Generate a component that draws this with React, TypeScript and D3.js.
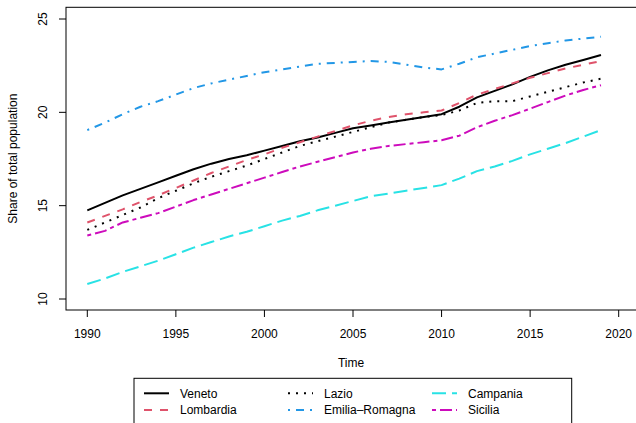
import React from "react";
import * as d3 from "d3";

// Annual share of total population, 1990–2019
const years: number[] = d3.range(1990, 2020);

const veneto = [14.75, 15.15, 15.55, 15.9, 16.25, 16.6, 16.95, 17.25, 17.5, 17.7, 17.95, 18.2, 18.45, 18.65, 18.9, 19.15, 19.3, 19.45, 19.6, 19.75, 19.9, 20.3, 20.8, 21.15, 21.5, 21.9, 22.25, 22.55, 22.8, 23.07];
const lombardia = [14.1, 14.45, 14.8, 15.2, 15.55, 15.95, 16.35, 16.75, 17.1, 17.45, 17.75, 18.1, 18.4, 18.7, 19.0, 19.3, 19.55, 19.75, 19.9, 20.0, 20.1, 20.5, 20.95, 21.25, 21.55, 21.85, 22.1, 22.35, 22.55, 22.75];
const lazio = [13.7, 14.1, 14.5, 14.9, 15.4, 15.8, 16.2, 16.55, 16.85, 17.15, 17.5, 17.85, 18.2, 18.45, 18.7, 18.95, 19.2, 19.45, 19.6, 19.75, 19.85, 20.1, 20.5, 20.6, 20.6, 20.85, 21.1, 21.35, 21.6, 21.8];
const emiliaRomagna = [19.05, 19.45, 19.9, 20.3, 20.6, 20.95, 21.3, 21.55, 21.75, 21.95, 22.15, 22.3, 22.45, 22.6, 22.65, 22.7, 22.75, 22.7, 22.55, 22.4, 22.3, 22.6, 22.95, 23.15, 23.35, 23.55, 23.7, 23.85, 23.95, 24.05];
const campania = [10.8, 11.1, 11.45, 11.75, 12.05, 12.4, 12.75, 13.05, 13.35, 13.6, 13.9, 14.2, 14.45, 14.75, 15.0, 15.25, 15.5, 15.65, 15.8, 15.95, 16.1, 16.45, 16.85, 17.1, 17.4, 17.75, 18.05, 18.35, 18.7, 19.05];
const sicilia = [13.4, 13.65, 14.1, 14.35, 14.6, 14.95, 15.3, 15.6, 15.9, 16.2, 16.5, 16.8, 17.1, 17.35, 17.6, 17.85, 18.05, 18.2, 18.3, 18.4, 18.5, 18.75, 19.2, 19.55, 19.85, 20.2, 20.55, 20.9, 21.2, 21.45];

const regionNames = ["Veneto", "Lombardia", "Lazio", "Emilia\u2013Romagna", "Campania", "Sicilia"];
const regionValues = [veneto, lombardia, lazio, emiliaRomagna, campania, sicilia];
const regionColors = ["#000000", "#DF536B", "#000000", "#2297E6", "#28E2E5", "#CD0BBC"];
// R-style line types scaled for lwd = 2
const regionDashes = ["none", "8,8", "2,6", "2,6,8,6", "14,6", "4,4,12,4"];

const xTicks = [1990, 1995, 2000, 2005, 2010, 2015, 2020];
const yTicks = [10, 15, 20, 25];

const W = 636;
const H = 423;
const FONT = "'Liberation Sans', Arial, Helvetica, sans-serif";

export default function App() {
  const x = d3.scaleLinear().domain([1990, 2020]).range([87.3, 618.7]);
  const y = d3.scaleLinear().domain([10, 25]).range([299, 19]);

  const box = { left: 66, top: 7.3, right: 640, bottom: 310 };

  const line = d3
    .line<number>()
    .x((_, i) => x(years[i]))
    .y((d) => y(d));

  // legend layout: three columns, two rows (filled column-wise)
  const legendCols = [144, 288, 432];
  const legendRows = [393.3, 410];
  const segLen = 25;

  return (
    <svg
      width={W}
      height={H}
      style={{ position: "absolute", left: 0, top: 0, background: "#fff" }}
      fontFamily={FONT}
    >
      <rect x={0} y={0} width={W} height={H} fill="#fff" />
      <defs>
        <clipPath id="plot-clip">
          <rect x={box.left} y={box.top} width={box.right - box.left} height={box.bottom - box.top} />
        </clipPath>
      </defs>

      {/* series */}
      <g clipPath="url(#plot-clip)">
        {regionValues.map((vals, k) => (
          <path
            key={regionNames[k]}
            d={line(vals) || ""}
            fill="none"
            stroke={regionColors[k]}
            strokeWidth={2}
            strokeDasharray={regionDashes[k]}
            strokeLinejoin="round"
            strokeLinecap="butt"
          />
        ))}
      </g>

      {/* plot frame */}
      <rect
        x={box.left}
        y={box.top}
        width={box.right - box.left}
        height={box.bottom - box.top}
        fill="none"
        stroke="#000"
        strokeWidth={1}
      />

      {/* x axis */}
      {xTicks.map((t) => (
        <g key={t}>
          <line x1={x(t)} x2={x(t)} y1={box.bottom} y2={box.bottom + 7} stroke="#000" strokeWidth={1} />
          <text x={x(t)} y={338} fontSize={12} textAnchor="middle" fill="#000">
            {t}
          </text>
        </g>
      ))}
      <text x={(x(1990) + x(2020)) / 2 - 2} y={367} fontSize={12} textAnchor="middle" fill="#000">
        Time
      </text>

      {/* y axis */}
      {yTicks.map((t) => (
        <g key={t}>
          <line x1={box.left - 7} x2={box.left} y1={y(t)} y2={y(t)} stroke="#000" strokeWidth={1} />
          <text
            transform={`translate(47,${y(t)}) rotate(-90)`}
            fontSize={12}
            textAnchor="middle"
            fill="#000"
          >
            {t}
          </text>
        </g>
      ))}
      <text
        transform={`translate(17,${(box.top + box.bottom) / 2}) rotate(-90)`}
        fontSize={12}
        textAnchor="middle"
        fill="#000"
      >
        Share of total population
      </text>

      {/* legend */}
      <rect x={134} y={378.3} width={437.7} height={60} fill="#fff" stroke="#000" strokeWidth={1} />
      {regionNames.map((name, k) => {
        const col = Math.floor(k / 2);
        const row = k % 2;
        const lx = legendCols[col];
        const ly = legendRows[row];
        return (
          <g key={name}>
            <line
              x1={lx}
              x2={lx + segLen}
              y1={ly}
              y2={ly}
              stroke={regionColors[k]}
              strokeWidth={2}
              strokeDasharray={regionDashes[k]}
            />
            <text x={lx + 36} y={ly} dy="0.35em" fontSize={12} fill="#000">
              {name}
            </text>
          </g>
        );
      })}
    </svg>
  );
}
